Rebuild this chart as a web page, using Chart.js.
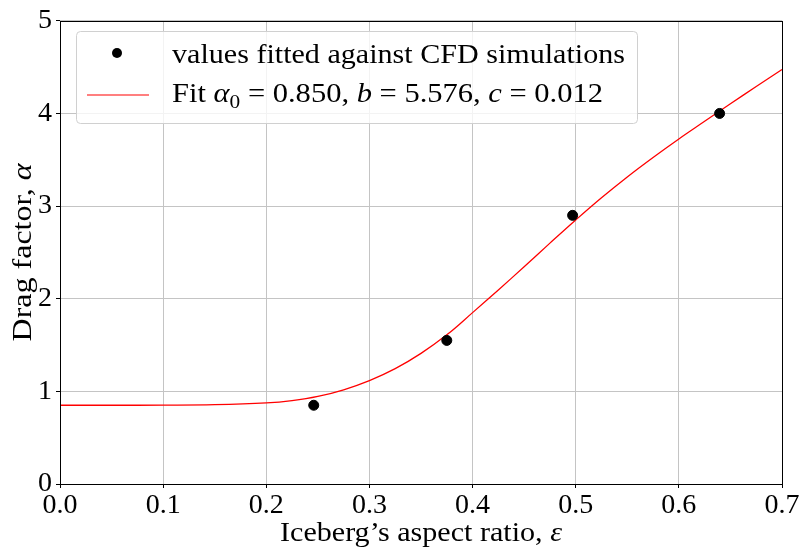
<!DOCTYPE html>
<html lang="en">
<head>
    <meta charset="UTF-8">
    <title>Drag factor vs aspect ratio</title>
    <style>
        body {
            margin: 0;
            background: #ffffff;
        }
        canvas {
            display: block;
        }
    </style>
</head>
<body>
    <canvas id="chart" width="803" height="552"></canvas>

    <script src="https://cdn.jsdelivr.net/npm/chart.js"></script>

    <script>
        // values fitted against CFD simulations
        const cfdAspect = [0.246, 0.375, 0.497, 0.6395];
        const cfdDrag = [0.85, 1.55, 2.9, 4.0];

        // fitted curve
        const fitAspect = [0, 0.05, 0.1, 0.15, 0.2, 0.225, 0.25, 0.275, 0.3, 0.325, 0.35, 0.375,
                           0.4, 0.425, 0.45, 0.475, 0.5, 0.525, 0.55, 0.575, 0.6, 0.625, 0.65, 0.675, 0.7];
        const fitDrag = [0.85, 0.85, 0.851, 0.856, 0.875, 0.9, 0.945, 1.017, 1.116, 1.245, 1.41, 1.61,
                         1.85, 2.095, 2.345, 2.6, 2.85, 3.09, 3.315, 3.525, 3.725, 3.915, 4.105, 4.29, 4.475];

        const xTickValues = [0.0, 0.1, 0.2, 0.3, 0.4, 0.5, 0.6, 0.7];
        const yTickValues = [0, 1, 2, 3, 4, 5];

        const pointsLabel = 'values fitted against CFD simulations';
        const fitLabel = [
            { t: 'Fit ' },
            { t: 'α', italic: true },
            { t: '0', sub: true },
            { t: ' = 0.850, ' },
            { t: 'b', italic: true },
            { t: ' = 5.576, ' },
            { t: 'c', italic: true },
            { t: ' = 0.012' }
        ];
        const xTitle = [{ t: 'Iceberg’s aspect ratio, ' }, { t: 'ε', italic: true }];
        const yTitle = [{ t: 'Drag factor, ' }, { t: 'α', italic: true }];

        const FAMILY = '"Liberation Serif", "Times New Roman", serif';

        // draws text made of plain / italic / subscript pieces, stretched to a width
        function drawRich(ctx, parts, x, y, size, targetW, align) {
            const fontFor = p => (p.italic ? 'italic ' : '') + (p.sub ? size * 0.7 : size) + 'px ' + FAMILY;
            let w = 0;
            parts.forEach(p => {
                ctx.font = fontFor(p);
                p.w = ctx.measureText(p.t).width;
                w += p.w;
            });
            const sx = targetW ? targetW / w : 1;
            ctx.save();
            ctx.translate(x, y);
            ctx.scale(sx, 1);
            ctx.fillStyle = '#000';
            ctx.textAlign = 'left';
            ctx.textBaseline = 'alphabetic';
            let cx = align === 'center' ? -w / 2 : 0;
            parts.forEach(p => {
                ctx.font = fontFor(p);
                ctx.fillText(p.t, cx, p.sub ? size * 0.22 : 0);
                cx += p.w;
            });
            ctx.restore();
        }

        const decorations = {
            id: 'decorations',
            afterDatasetsDraw(chart) {
                const { ctx, chartArea: a } = chart;
                ctx.save();
                ctx.strokeStyle = '#000';
                ctx.lineWidth = 1;
                ctx.strokeRect(Math.round(a.left) + 0.5, Math.round(a.top) + 0.5,
                               Math.round(a.right - a.left), Math.round(a.bottom - a.top));
                ctx.restore();
            },
            afterDraw(chart) {
                const { ctx, chartArea: a } = chart;
                const midX = (a.left + a.right) / 2;
                const midY = (a.top + a.bottom) / 2;

                // axis titles
                drawRich(ctx, xTitle, midX, 541, 28, 282, 'center');
                ctx.save();
                ctx.translate(31, midY);
                ctx.rotate(-Math.PI / 2);
                drawRich(ctx, yTitle, 0, 0, 28, 178, 'center');
                ctx.restore();

                // legend
                ctx.save();
                ctx.beginPath();
                ctx.roundRect(76.5, 31.5, 561, 92, 4);
                ctx.fillStyle = 'rgba(255,255,255,0.8)';
                ctx.fill();
                ctx.strokeStyle = '#d0d0d0';
                ctx.lineWidth = 1;
                ctx.stroke();

                ctx.beginPath();
                ctx.arc(117, 53, 5, 0, Math.PI * 2);
                ctx.fillStyle = '#000';
                ctx.fill();

                ctx.beginPath();
                ctx.moveTo(87, 95);
                ctx.lineTo(149, 95);
                ctx.strokeStyle = '#ff0000';
                ctx.lineWidth = 1.2;
                ctx.stroke();
                ctx.restore();

                drawRich(ctx, [{ t: pointsLabel }], 172, 63, 28, 453, 'left');
                drawRich(ctx, fitLabel, 172, 102, 28, 431, 'left');
            }
        };

        const tickFont = { family: FAMILY, size: 28 };

        new Chart(document.getElementById('chart'), {
            type: 'scatter',
            data: {
                datasets: [
                    {
                        label: pointsLabel,
                        data: cfdAspect.map((x, i) => ({ x: x, y: cfdDrag[i] })),
                        backgroundColor: '#000',
                        borderColor: '#000',
                        pointRadius: 5,
                        pointHoverRadius: 5,
                        showLine: false
                    },
                    {
                        label: 'Fit',
                        data: fitAspect.map((x, i) => ({ x: x, y: fitDrag[i] })),
                        borderColor: '#ff0000',
                        backgroundColor: '#ff0000',
                        borderWidth: 1.3,
                        pointRadius: 0,
                        showLine: true,
                        tension: 0.4
                    }
                ]
            },
            options: {
                responsive: false,
                animation: false,
                devicePixelRatio: 1,
                layout: { padding: { top: 15, right: 21, left: 0, bottom: 0 } },
                plugins: {
                    legend: { display: false },
                    tooltip: { enabled: false }
                },
                scales: {
                    x: {
                        type: 'linear',
                        min: 0,
                        max: 0.7,
                        afterBuildTicks: s => { s.ticks = xTickValues.map(v => ({ value: v })); },
                        afterFit: s => { s.height = 68; },
                        ticks: {
                            font: tickFont,
                            color: '#000',
                            padding: 1,
                            maxRotation: 0,
                            autoSkip: false,
                            callback: v => v.toFixed(1)
                        },
                        grid: { color: '#c4c4c4', lineWidth: 1, tickLength: 4, tickColor: '#000' },
                        border: { display: false }
                    },
                    y: {
                        min: 0,
                        max: 5,
                        afterBuildTicks: s => { s.ticks = yTickValues.map(v => ({ value: v })); },
                        afterFit: s => { s.width = 60; },
                        ticks: {
                            font: tickFont,
                            color: '#000',
                            padding: 4,
                            autoSkip: false,
                            callback: v => String(v)
                        },
                        grid: { color: '#c4c4c4', lineWidth: 1, tickLength: 4, tickColor: '#000' },
                        border: { display: false }
                    }
                }
            },
            plugins: [decorations]
        });
    </script>
</body>
</html>
